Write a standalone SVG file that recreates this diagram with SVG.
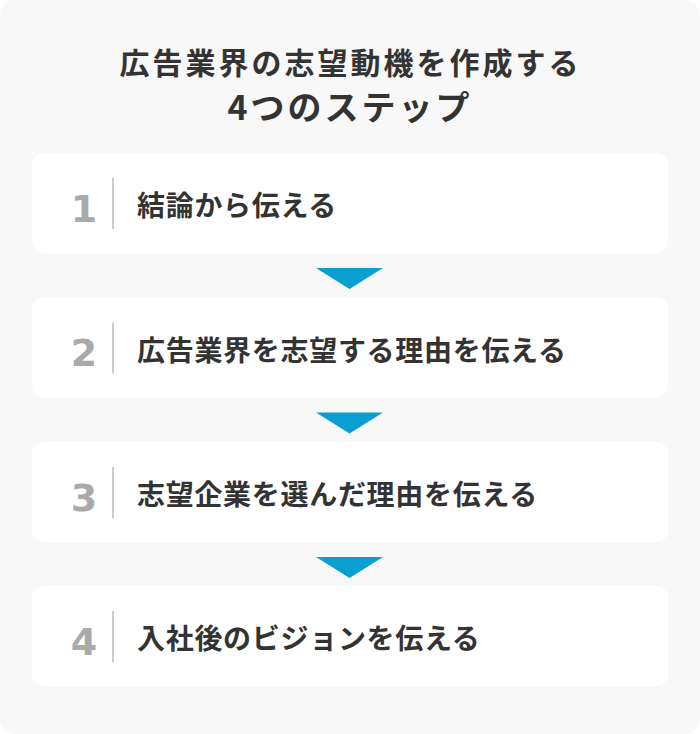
<svg xmlns="http://www.w3.org/2000/svg" width="700" height="734" viewBox="0 0 700 734">
<defs>
<style>
.card{fill:#ffffff;}
.num{font-family:"DejaVu Sans",sans-serif;font-weight:bold;font-size:38px;fill:#aaaaaa;text-anchor:middle;}
.sep{stroke:#cccccc;stroke-width:2;}
.lbl{font-family:"Noto Sans CJK JP","Noto Sans",sans-serif;font-weight:bold;font-size:28px;fill:#333333;letter-spacing:0.7px;}
.ttl{font-family:"Noto Sans CJK JP","Noto Sans",sans-serif;font-weight:bold;fill:#333333;text-anchor:middle;}
.tri{fill:#0a9fd1;}
</style>
</defs>
<rect x="0" y="0" width="700" height="734" fill="#ffffff"/>
<rect x="0" y="0" width="700" height="734" rx="15" fill="#f8f8f8"/>
<g id="title">
<text class="ttl" x="350.5" y="74" font-size="30" letter-spacing="3">広告業界の志望動機を作成する</text>
<text class="ttl" x="350" y="120" font-size="34" letter-spacing="3">4つのステップ</text>
</g>
<g id="step1">
<rect class="card" x="32" y="153" width="636" height="100" rx="12"/>
<text class="num" x="84" y="221.5">1</text>
<line class="sep" x1="113" y1="178" x2="113" y2="229"/>
<text class="lbl" x="137" y="216">結論から伝える</text>
</g>
<g id="step2">
<rect class="card" x="32" y="297.5" width="636" height="100" rx="12"/>
<text class="num" x="84" y="366">2</text>
<line class="sep" x1="113" y1="322.5" x2="113" y2="373.5"/>
<text class="lbl" x="137" y="360.5">広告業界を志望する理由を伝える</text>
</g>
<g id="step3">
<rect class="card" x="32" y="442" width="636" height="100" rx="12"/>
<text class="num" x="84" y="510.5">3</text>
<line class="sep" x1="113" y1="467" x2="113" y2="518"/>
<text class="lbl" x="137" y="505">志望企業を選んだ理由を伝える</text>
</g>
<g id="step4">
<rect class="card" x="32" y="586" width="636" height="100" rx="12"/>
<text class="num" x="84" y="654.5">4</text>
<line class="sep" x1="113" y1="611" x2="113" y2="662"/>
<text class="lbl" x="137" y="649">入社後のビジョンを伝える</text>
</g>
<g id="connectors">
<polygon class="tri" points="316,268 383,268 349.5,289"/>
<polygon class="tri" points="316,412.5 383,412.5 349.5,433.5"/>
<polygon class="tri" points="316,557 383,557 349.5,578"/>
</g>
</svg>
